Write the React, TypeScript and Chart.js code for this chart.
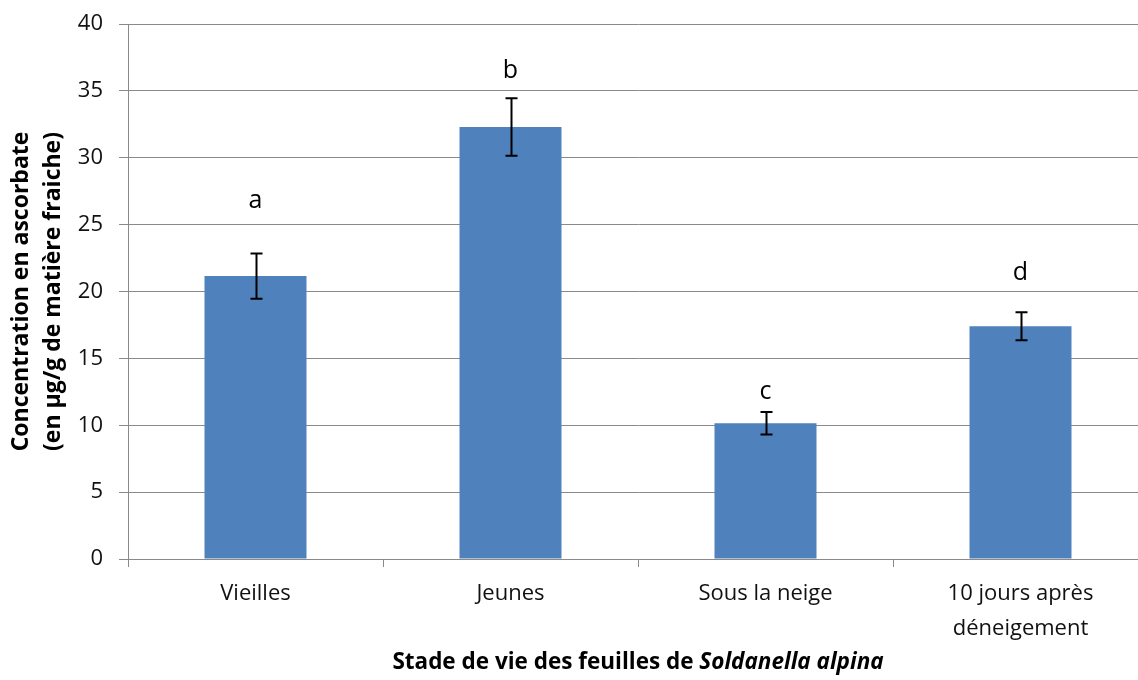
import React, { useEffect, useRef } from 'react';
import { Chart, registerables } from 'chart.js';

Chart.register(...registerables);

const categories: string[][] = [['Vieilles'], ['Jeunes'], ['Sous la neige'], ['10 jours après', 'déneigement']];
const means = [21.15, 32.3, 10.15, 17.4];
const errors = [1.7, 2.15, 0.85, 1.05];
const letters = ['a', 'b', 'c', 'd'];
const letterValues = [26.8, 36.5, 12.5, 21.4];
const yTitleLines = ['Concentration en ascorbate', '(en µg/g de matière fraiche)'];
const xTitlePlain = 'Stade de vie des feuilles de ';
const xTitleItalic = 'Soldanella alpina';

const FONT = '"Open Sans", "Noto Sans", sans-serif';
const GRID = '#8a8a8a';

export default function App() {
  const ref = useRef<HTMLCanvasElement>(null);
  useEffect(() => {
    document.body.style.margin = '0';
    document.body.style.overflow = 'hidden';
    const extras = {
      id: 'extras',
      afterDatasetsDraw(chart: any) {
        const ctx = chart.ctx;
        const meta = chart.getDatasetMeta(0);
        const y = chart.scales.y;
        ctx.save();
        ctx.strokeStyle = '#000';
        ctx.lineWidth = 2;
        meta.data.forEach((bar: any, i: number) => {
          const x = Math.round(bar.x) + 0.5;
          const top = y.getPixelForValue(means[i] + errors[i]);
          const bot = y.getPixelForValue(means[i] - errors[i]);
          ctx.beginPath();
          ctx.moveTo(x, top);
          ctx.lineTo(x, bot);
          ctx.moveTo(x - 6, top);
          ctx.lineTo(x + 6, top);
          ctx.moveTo(x - 6, bot);
          ctx.lineTo(x + 6, bot);
          ctx.stroke();
          ctx.fillStyle = '#000';
          ctx.font = `25px ${FONT}`;
          ctx.textAlign = 'center';
          ctx.textBaseline = 'middle';
          ctx.fillText(letters[i], bar.x, y.getPixelForValue(letterValues[i]));
        });
        const area = chart.chartArea;
        const cx = (area.left + area.right) / 2;
        const ty = 663;
        ctx.textBaseline = 'middle';
        ctx.textAlign = 'left';
        ctx.font = `bold 22.5px ${FONT}`;
        const w1 = ctx.measureText(xTitlePlain).width;
        ctx.font = `italic bold 22.5px ${FONT}`;
        const w2 = ctx.measureText(xTitleItalic).width;
        const sx = cx - (w1 + w2) / 2;
        ctx.font = `bold 22.5px ${FONT}`;
        ctx.fillText(xTitlePlain, sx, ty);
        ctx.font = `italic bold 22.5px ${FONT}`;
        ctx.fillText(xTitleItalic, sx + w1, ty);
        ctx.restore();
      },
    };
    const chart = new Chart(ref.current!, {
      type: 'bar',
      data: {
        labels: categories,
        datasets: [
          {
            data: means,
            backgroundColor: '#4F81BD',
            borderWidth: 0,
            barPercentage: 0.4,
            categoryPercentage: 1,
          },
        ],
      },
      options: {
        animation: false,
        responsive: true,
        maintainAspectRatio: false,
        layout: { padding: { top: 24, right: 2, left: 0, bottom: 0 } },
        plugins: { legend: { display: false }, tooltip: { enabled: false } },
        scales: {
          x: {
            grid: { display: true, drawOnChartArea: false, drawTicks: true, tickLength: 8, color: GRID, offset: true },
            border: { color: GRID, width: 1 },
            ticks: { color: '#111', font: { family: FONT, size: 22, lineHeight: 1.6 }, padding: 9, maxRotation: 0 },
            afterFit: (s: any) => { s.height = 121; s.paddingLeft = 0; s.paddingRight = 0; },
          },
          y: {
            min: 0,
            max: 40,
            ticks: { stepSize: 5, color: '#111', font: { family: FONT, size: 22 }, padding: 16 },
            grid: { color: GRID, tickLength: 9, lineWidth: 1 },
            border: { color: GRID, width: 1 },
            title: {
              display: true,
              text: yTitleLines,
              color: '#000',
              font: { family: FONT, size: 23, weight: 'bold', lineHeight: 1.38 },
              padding: { top: 6, bottom: 0 },
            },
            afterFit: (s: any) => { s.width = 128; s.paddingTop = 0; s.paddingBottom = 0; },
          },
        },
      },
      plugins: [extras],
    });
    return () => chart.destroy();
  }, []);
  return (
    <div style={{ position: 'fixed', left: 0, top: 0, width: 1150, height: 680, background: '#fff' }}>
      <canvas ref={ref} />
    </div>
  );
}
